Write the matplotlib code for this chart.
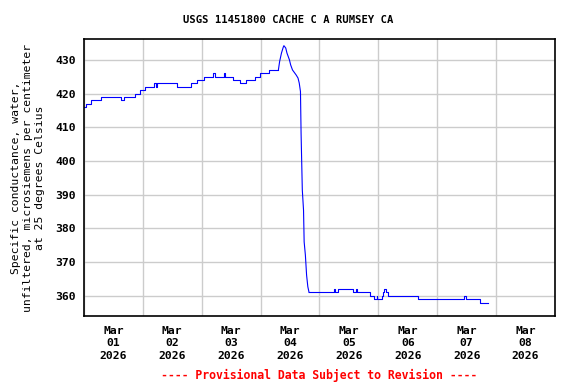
import matplotlib

matplotlib.use("Agg")
import matplotlib.pyplot as plt
import pandas as pd

# hours since 2026-03-01 00:00 and specific conductance (uS/cm @ 25C)
hours = [0, 0.75, 3, 7, 15.25, 16.5, 20.75, 22.75, 25, 28.5, 29.25, 29.75,
         37.75, 43.5, 46.25, 49, 52.75, 53.25, 57, 57.5, 60.75, 63.75, 66,
         69.75, 71.75, 75.25, 79.25, 79.75, 80.5, 81.25, 81.5, 82.25, 82.75, 83.75,
         84.25, 85, 85.5, 86.5, 87.25, 87.75, 88.25, 88.5, 89, 89.5, 89.75,
         90.25, 90.75, 91.25, 91.75, 102, 102.25, 103.75, 109.75, 110.75,
         111.25, 116.5, 118.25, 119.25, 119.5, 121.5, 121.75, 122.5, 123.25,
         124, 136.25, 154.75, 155.75, 161.5, 164.75]
conductance = [416, 417, 418, 419, 418, 419, 420, 421, 422, 423, 422, 423,
               422, 423, 424, 425, 426, 425, 426, 425, 424, 423, 424,
               425, 426, 427, 427, 429.5, 432, 433.8, 434.2, 433.5, 432, 430,
               428.5, 427, 426.5, 425.5, 424.6, 423.1, 420.6, 408.2, 391.4, 385.4, 376,
               372.1, 366.1, 362.7, 361, 362, 361, 362, 361, 362,
               361, 360, 359, 360, 359, 360, 361, 362, 361,
               360, 359, 360, 359, 358, 358]
y_ticks = [360, 370, 380, 390, 400, 410, 420, 430]
day_labels = ["Mar\n01\n2026", "Mar\n02\n2026", "Mar\n03\n2026", "Mar\n04\n2026",
              "Mar\n05\n2026", "Mar\n06\n2026", "Mar\n07\n2026", "Mar\n08\n2026"]

start = pd.Timestamp("2026-03-01")
s = pd.Series(conductance, index=start + pd.to_timedelta(hours, unit="h"))
midnights = pd.date_range(start, periods=9, freq="D")
noons = midnights[:-1] + pd.Timedelta(hours=12)

# the spike and the drop are drawn as a plain line, the plateaus as steps
peak = s[(s.index >= start + pd.Timedelta(hours=79.25)) & (s.index <= start + pd.Timedelta(hours=91.75))]
before = s[s.index <= peak.index[0]]
after = s[s.index >= peak.index[-1]]

plt.rcParams["font.family"] = "DejaVu Sans Mono"
plt.rcParams["font.weight"] = "bold"

fig = plt.figure(figsize=(5.76, 3.84), dpi=100)
ax = fig.add_axes([0.1458, 0.177, 0.8177, 0.7207])

line_kw = dict(color="#0000ff", lw=0.8)
ax.plot(before.index, before.values, drawstyle="steps-post", **line_kw)
ax.plot(peak.index, peak.values, **line_kw)
ax.plot(after.index, after.values, drawstyle="steps-post", **line_kw)

ax.set_xlim(midnights[0], midnights[-1])
ax.set_ylim(354, 436.1)
ax.set_yticks(y_ticks)
ax.set_xticks(midnights)
ax.set_xticklabels([])
ax.set_xticks(noons, minor=True)
ax.set_xticklabels(day_labels, minor=True, fontsize=8.2, linespacing=1.3)
ax.tick_params(axis="x", which="both", length=0, pad=7)
ax.tick_params(axis="y", length=0, pad=6, labelsize=8.2)
ax.grid(True, which="major", color="#cccccc", lw=1)
ax.set_axisbelow(True)
for sp in ax.spines.values():
    sp.set_linewidth(1.2)

ax.set_ylabel("Specific conductance, water,\nunfiltered, microsiemens per centimeter\nat 25 degrees Celsius",
              fontsize=8.2, linespacing=1.3, labelpad=7)

fig.text(0.5, 0.948, "USGS 11451800 CACHE C A RUMSEY CA", ha="center", va="center",
         fontsize=7.6)
fig.text(0.5547, 0.023, "---- Provisional Data Subject to Revision ----", ha="center",
         va="center", fontsize=8.3, color="red")

fig.savefig("out.png", dpi=100)
